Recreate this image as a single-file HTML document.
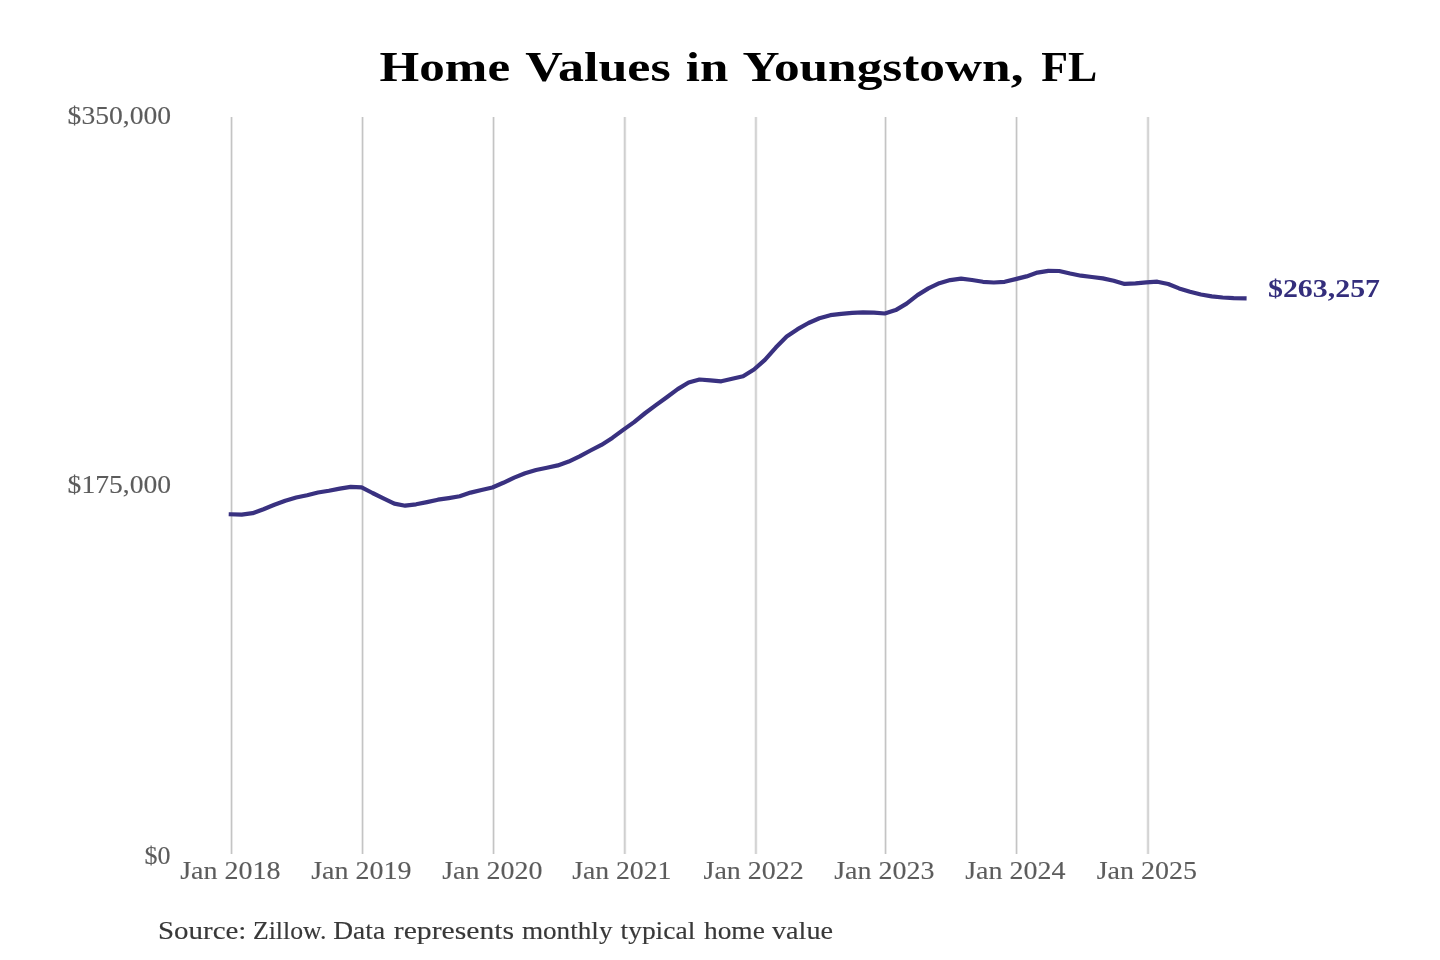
<!DOCTYPE html>
<html><head><meta charset="utf-8">
<style>
html,body{margin:0;padding:0;background:#fff;width:1440px;height:960px;overflow:hidden}
svg{display:block;will-change:transform}
.ax{font-family:"Liberation Serif",serif;font-size:25.5px;fill:#5c5c5c;stroke:#5c5c5c;stroke-width:0.12px}
.t{font-family:"Liberation Serif",serif;font-weight:bold;font-size:42px;fill:#000}
.v{font-family:"Liberation Serif",serif;font-weight:bold;font-size:25.5px;fill:#342e7c}
.s{font-family:"Liberation Serif",serif;font-size:25px;fill:#383838;stroke:#383838;stroke-width:0.15px}
</style></head><body>
<svg width="1440" height="960" viewBox="0 0 1440 960">
<rect width="1440" height="960" fill="#fff"/>
<text x="379.6" y="81.3" textLength="130.5" lengthAdjust="spacingAndGlyphs" class="t">Home</text>
<text x="525.2" y="81.3" textLength="145.5" lengthAdjust="spacingAndGlyphs" class="t">Values</text>
<text x="685.8" y="81.3" textLength="42.5" lengthAdjust="spacingAndGlyphs" class="t">in</text>
<text x="742.5" y="81.3" textLength="281.0" lengthAdjust="spacingAndGlyphs" class="t">Youngstown,</text>
<text x="1041.2" y="81.3" textLength="56.0" lengthAdjust="spacingAndGlyphs" class="t">FL</text>
<rect x="230.0" y="117" width="3" height="737" fill="#ececec"/><rect x="231.0" y="117" width="1.1" height="737" fill="#c4c4c4"/>
<rect x="361.0" y="117" width="3" height="737" fill="#ececec"/><rect x="362.0" y="117" width="1.1" height="737" fill="#c4c4c4"/>
<rect x="492.0" y="117" width="3" height="737" fill="#ececec"/><rect x="493.0" y="117" width="1.1" height="737" fill="#c4c4c4"/>
<rect x="623.3" y="117" width="3" height="737" fill="#ececec"/><rect x="624.3" y="117" width="1.1" height="737" fill="#c4c4c4"/>
<rect x="754.4" y="117" width="3" height="737" fill="#ececec"/><rect x="755.4" y="117" width="1.1" height="737" fill="#c4c4c4"/>
<rect x="884.0" y="117" width="3" height="737" fill="#ececec"/><rect x="885.0" y="117" width="1.1" height="737" fill="#c4c4c4"/>
<rect x="1015.0" y="117" width="3" height="737" fill="#ececec"/><rect x="1016.0" y="117" width="1.1" height="737" fill="#c4c4c4"/>
<rect x="1146.5" y="117" width="3" height="737" fill="#ececec"/><rect x="1147.5" y="117" width="1.1" height="737" fill="#c4c4c4"/>
<text x="171.1" y="124.4" text-anchor="end" textLength="103.5" lengthAdjust="spacingAndGlyphs" class="ax">$350,000</text>
<text x="171.1" y="492.5" text-anchor="end" textLength="103.5" lengthAdjust="spacingAndGlyphs" class="ax">$175,000</text>
<text x="170.6" y="863.9" text-anchor="end" textLength="26" lengthAdjust="spacingAndGlyphs" class="ax">$0</text>
<text x="230.3" y="879.4" text-anchor="middle" textLength="100.3" lengthAdjust="spacingAndGlyphs" class="ax">Jan 2018</text>
<text x="361.3" y="879.4" text-anchor="middle" textLength="100.3" lengthAdjust="spacingAndGlyphs" class="ax">Jan 2019</text>
<text x="492.3" y="879.4" text-anchor="middle" textLength="100.3" lengthAdjust="spacingAndGlyphs" class="ax">Jan 2020</text>
<text x="621.8" y="879.4" text-anchor="middle" textLength="99.3" lengthAdjust="spacingAndGlyphs" class="ax">Jan 2021</text>
<text x="753.7" y="879.4" text-anchor="middle" textLength="100.3" lengthAdjust="spacingAndGlyphs" class="ax">Jan 2022</text>
<text x="884.3" y="879.4" text-anchor="middle" textLength="100.3" lengthAdjust="spacingAndGlyphs" class="ax">Jan 2023</text>
<text x="1015.3" y="879.4" text-anchor="middle" textLength="100.3" lengthAdjust="spacingAndGlyphs" class="ax">Jan 2024</text>
<text x="1146.8" y="879.4" text-anchor="middle" textLength="100.3" lengthAdjust="spacingAndGlyphs" class="ax">Jan 2025</text>
<path d="M230.80,514.30 L241.70,514.60 L252.60,513.20 L263.50,509.20 L274.40,504.80 L285.30,500.70 L296.20,497.50 L307.10,495.20 L318.00,492.50 L328.90,490.70 L339.80,488.60 L350.70,486.90 L361.60,487.30 L372.50,493.00 L383.40,498.30 L394.30,503.60 L405.20,505.70 L416.10,504.30 L427.00,502.10 L437.90,499.70 L448.80,498.10 L459.70,496.30 L470.60,492.60 L481.50,490.00 L492.40,487.50 L503.30,482.80 L514.20,477.60 L525.10,473.20 L536.00,470.00 L546.90,467.70 L557.80,465.40 L568.70,461.60 L579.60,456.30 L590.50,450.50 L601.40,444.90 L612.30,437.90 L623.20,429.90 L634.10,422.10 L645.00,413.25 L655.90,405.10 L666.80,397.20 L677.70,389.10 L688.60,382.50 L699.50,379.50 L710.40,380.30 L721.30,381.30 L732.20,378.70 L743.10,376.30 L754.00,369.50 L764.90,359.90 L775.80,347.60 L786.70,336.60 L797.60,329.20 L808.50,323.00 L819.40,318.30 L830.30,315.20 L841.20,313.80 L852.10,312.80 L863.00,312.30 L873.90,312.60 L884.80,313.50 L895.70,310.10 L906.60,303.60 L917.50,295.10 L928.40,288.40 L939.30,283.20 L950.20,280.10 L961.10,278.60 L972.00,280.00 L982.90,281.80 L993.80,282.50 L1004.70,281.80 L1015.60,279.10 L1026.50,276.40 L1037.40,272.60 L1048.30,270.90 L1059.20,271.00 L1070.10,273.50 L1081.00,275.70 L1091.90,277.00 L1102.80,278.40 L1113.70,280.70 L1124.60,283.90 L1135.50,283.40 L1146.40,282.40 L1157.30,281.70 L1168.20,284.00 L1179.10,288.40 L1190.00,291.70 L1200.90,294.50 L1211.80,296.40 L1222.70,297.50 L1233.60,298.10 L1244.50,298.30" fill="none" stroke="#393180" stroke-width="4.2" stroke-linejoin="round" stroke-linecap="square"/>
<text x="1268" y="297.1" textLength="112" lengthAdjust="spacingAndGlyphs" class="v">$263,257</text>
<text x="158.0" y="938.6" textLength="88.4" lengthAdjust="spacingAndGlyphs" class="s">Source:</text>
<text x="253.0" y="938.6" textLength="73.4" lengthAdjust="spacingAndGlyphs" class="s">Zillow.</text>
<text x="333.3" y="938.6" textLength="51.8" lengthAdjust="spacingAndGlyphs" class="s">Data</text>
<text x="393.8" y="938.6" textLength="120.3" lengthAdjust="spacingAndGlyphs" class="s">represents</text>
<text x="521.9" y="938.6" textLength="90.6" lengthAdjust="spacingAndGlyphs" class="s">monthly</text>
<text x="620.5" y="938.6" textLength="74.8" lengthAdjust="spacingAndGlyphs" class="s">typical</text>
<text x="704.0" y="938.6" textLength="60.8" lengthAdjust="spacingAndGlyphs" class="s">home</text>
<text x="772.0" y="938.6" textLength="61.0" lengthAdjust="spacingAndGlyphs" class="s">value</text>
</svg>
</body></html>
